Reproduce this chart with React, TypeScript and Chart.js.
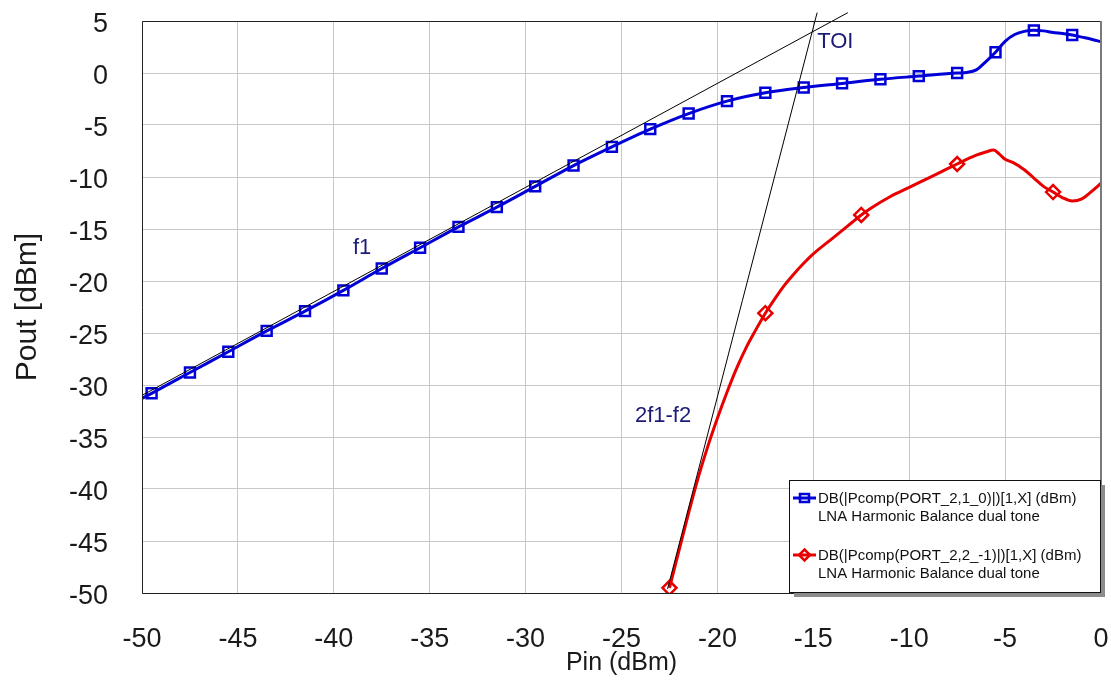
import React, { useEffect, useRef } from "react";
import { Chart, registerables } from "chart.js";

Chart.register(...registerables);

// ---- data ----
const pinF1 = [-50, -49.5, -47.5, -45.5, -43.5, -41.5, -39.5, -37.5, -35.5, -33.5, -31.5, -29.5, -27.5, -25.5, -23.5, -21.5, -19.5, -17.5, -15.5, -13.5, -11.5, -9.5, -7.5, -7, -6.5, -6, -5.5, -5, -4.5, -4, -3.5, -3, -2.5, -2, -1.5, -1, -0.5, 0];
const poutF1 = [-31.3, -30.8, -28.8, -26.8, -24.8, -22.9, -20.9, -18.8, -16.8, -14.8, -12.9, -10.9, -8.9, -7.1, -5.4, -3.9, -2.7, -1.9, -1.4, -1.0, -0.6, -0.3, 0.0, 0.05, 0.3, 1.1, 2.0, 3.05, 3.7, 4.0, 4.1, 4.05, 3.9, 3.8, 3.65, 3.45, 3.25, 3.0];
const markersF1 = [-49.5, -47.5, -45.5, -43.5, -41.5, -39.5, -37.5, -35.5, -33.5, -31.5, -29.5, -27.5, -25.5, -23.5, -21.5, -19.5, -17.5, -15.5, -13.5, -11.5, -9.5, -7.5, -5.5, -3.5, -1.5];

const pinIM3 = [-22.5, -22, -21.5, -21, -20.5, -20, -19.5, -19, -18.5, -18, -17.5, -17, -16.5, -16, -15.5, -15, -14, -13, -12.5, -12, -11, -10, -9, -8, -7.5, -7, -6.5, -6, -5.6, -5.3, -5, -4.6, -4, -3.5, -3, -2.5, -2, -1.5, -1, -0.5, 0];
const poutIM3 = [-49.5, -45.9, -42.3, -38.9, -35.9, -33.2, -30.7, -28.4, -26.4, -24.7, -23.1, -21.7, -20.4, -19.3, -18.3, -17.4, -15.9, -14.4, -13.65, -13.0, -11.9, -11.0, -10.1, -9.2, -8.75, -8.3, -7.9, -7.6, -7.4, -7.8, -8.3, -8.6, -9.3, -10.1, -10.9, -11.45, -12.0, -12.3, -12.1, -11.4, -10.6];
const markersIM3 = [-22.5, -17.5, -12.5, -7.5, -2.5];

// extrapolation lines (slope-1 fundamental and IM3 tangent) meeting at TOI
const toiLineF1X = [-50, -13.2];
const toiLineF1Y = [-31.0, 5.8];
const toiLineIM3X = [-22.6, -14.8];
const toiLineIM3Y = [-49.6, 5.8];

const xTicks = [-50, -45, -40, -35, -30, -25, -20, -15, -10, -5, 0];
const yTicks = [-50, -45, -40, -35, -30, -25, -20, -15, -10, -5, 0, 5];

const seriesNames = ["DB(|Pcomp(PORT_2,1_0)|)[1,X] (dBm)", "DB(|Pcomp(PORT_2,2_-1)|)[1,X] (dBm)"];
const seriesSub = ["LNA Harmonic Balance dual tone", "LNA Harmonic Balance dual tone"];

const noteLabels = ["TOI", "f1", "2f1-f2"];
const noteX = [-14.8, -39.0, -24.3];
const noteY = [2.4, -17.4, -33.55];

const FONT = "'Liberation Sans', Arial, sans-serif";
const BLUE = "rgb(0,0,215)";
const RED = "rgb(232,0,0)";
const NAVY = "#1c1c78";

const toPts = (xs: number[], ys: number[]) => xs.map((x, i) => ({ x, y: ys[i] }));

const zeroPad = (s: any) => {
  s.paddingTop = 0;
  s.paddingBottom = 0;
  s.paddingLeft = 0;
  s.paddingRight = 0;
};

export default function App() {
  const ref = useRef<HTMLCanvasElement | null>(null);

  useEffect(() => {
    const canvas = ref.current;
    if (!canvas) return;

    const decor = {
      id: "decor",
      afterDatasetsDraw(chart: any) {
        const { ctx, chartArea: a, scales } = chart;
        ctx.save();
        // frame
        ctx.strokeStyle = "#222";
        ctx.lineWidth = 1;
        ctx.beginPath();
        ctx.moveTo(a.right, a.top + 0.5);
        ctx.lineTo(a.left + 0.5, a.top + 0.5);
        ctx.lineTo(a.left + 0.5, a.bottom + 0.5);
        ctx.lineTo(a.right, a.bottom + 0.5);
        ctx.stroke();
        ctx.strokeStyle = "#7a7a7a";
        ctx.lineWidth = 2;
        ctx.beginPath();
        ctx.moveTo(a.right, a.top);
        ctx.lineTo(a.right, a.bottom + 1);
        ctx.stroke();
        // annotations
        ctx.fillStyle = NAVY;
        ctx.font = `22px ${FONT}`;
        ctx.textAlign = "left";
        ctx.textBaseline = "alphabetic";
        noteLabels.forEach((t, i) => {
          ctx.fillText(t, scales.x.getPixelForValue(noteX[i]), scales.y.getPixelForValue(noteY[i]));
        });
        ctx.restore();
      },
      afterDraw(chart: any) {
        const { ctx } = chart;
        ctx.save();
        const bx = 789, by = 480, bw = 311, bh = 112;
        ctx.fillStyle = "#8c8c8c";
        ctx.fillRect(bx + 5, by + 5, bw, bh);
        ctx.fillStyle = "#fff";
        ctx.fillRect(bx, by, bw, bh);
        ctx.strokeStyle = "#111";
        ctx.lineWidth = 1;
        ctx.strokeRect(bx + 0.5, by + 0.5, bw, bh);
        const rows = [498, 555];
        const cols = [BLUE, RED];
        rows.forEach((yy, i) => {
          ctx.strokeStyle = cols[i];
          ctx.lineWidth = 3;
          ctx.beginPath();
          ctx.moveTo(793, yy);
          ctx.lineTo(816, yy);
          ctx.stroke();
          ctx.lineWidth = 2.5;
          ctx.beginPath();
          if (i === 0) {
            ctx.rect(800, yy - 4, 9, 8);
          } else {
            ctx.moveTo(804.5, yy - 5.5);
            ctx.lineTo(810, yy);
            ctx.lineTo(804.5, yy + 5.5);
            ctx.lineTo(799, yy);
            ctx.closePath();
          }
          ctx.stroke();
          ctx.fillStyle = "#111";
          ctx.font = `15px ${FONT}`;
          ctx.textAlign = "left";
          ctx.textBaseline = "alphabetic";
          ctx.fillText(seriesNames[i], 818, yy + 5);
          ctx.fillText(seriesSub[i], 818, yy + 23);
        });
        ctx.restore();
      },
    };

    const isMarker = (list: number[]) => (c: any) => {
      const raw = c.raw as any;
      return raw && list.includes(raw.x) ? 1 : 0;
    };
    const mF1 = isMarker(markersF1);
    const mIM3 = isMarker(markersIM3);

    const chart = new Chart(canvas, {
      type: "line",
      data: {
        datasets: [
          {
            label: "toi1",
            data: toPts(toiLineF1X, toiLineF1Y),
            borderColor: "#000",
            borderWidth: 1,
            pointRadius: 0,
            clip: false as any,
            tension: 0,
          },
          {
            label: "toi3",
            data: toPts(toiLineIM3X, toiLineIM3Y),
            borderColor: "#000",
            borderWidth: 1,
            pointRadius: 0,
            clip: false as any,
            tension: 0,
          },
          {
            label: seriesNames[0],
            data: toPts(pinF1, poutF1),
            borderColor: BLUE,
            borderWidth: 3,
            cubicInterpolationMode: "monotone",
            pointStyle: "rect",
            pointRadius: (c: any) => (mF1(c) ? 7 : 0),
            pointBorderWidth: 2.5,
            pointBorderColor: BLUE,
            pointBackgroundColor: "rgba(0,0,0,0)",
          },
          {
            label: seriesNames[1],
            data: toPts(pinIM3, poutIM3),
            borderColor: RED,
            borderWidth: 3,
            cubicInterpolationMode: "monotone",
            pointStyle: "rectRot",
            pointRadius: (c: any) => (mIM3(c) ? 7 : 0),
            pointBorderWidth: 2.5,
            pointBorderColor: RED,
            pointBackgroundColor: "rgba(0,0,0,0)",
          },
        ],
      },
      options: {
        responsive: false,
        maintainAspectRatio: false,
        animation: false,
        events: [],
        layout: { padding: { left: 0, top: 21, right: 10, bottom: 0 } },
        plugins: { legend: { display: false }, tooltip: { enabled: false } },
        scales: {
          x: {
            type: "linear",
            min: -50,
            max: 0,
            afterBuildTicks: (s: any) => {
              s.ticks = xTicks.map((v) => ({ value: v }));
            },
            afterFit: (s: any) => {
              s.height = 100;
              zeroPad(s);
            },
            grid: { color: "#c8c8c8", lineWidth: 1, drawTicks: false },
            border: { display: false },
            ticks: { padding: 30, color: "#1a1a1a", font: { family: FONT, size: 27 }, maxRotation: 0 },
            title: {
              display: true,
              text: "Pin (dBm)",
              color: "#1a1a1a",
              font: { family: FONT, size: 25 },
              padding: { top: 0, bottom: 15 },
            },
          },
          y: {
            type: "linear",
            min: -50,
            max: 5,
            afterBuildTicks: (s: any) => {
              s.ticks = yTicks.map((v) => ({ value: v }));
            },
            afterFit: (s: any) => {
              s.width = 142;
              zeroPad(s);
            },
            grid: { color: "#c8c8c8", lineWidth: 1, drawTicks: false },
            border: { display: false },
            ticks: { padding: 34, labelOffset: 4, color: "#1a1a1a", font: { family: FONT, size: 27 } },
            title: {
              display: true,
              text: "Pout [dBm]",
              color: "#1a1a1a",
              font: { family: FONT, size: 30 },
              padding: { top: 10, bottom: 0 },
            },
          },
        },
      },
      plugins: [decor],
    } as any);

    return () => chart.destroy();
  }, []);

  return (
    <div style={{ position: "absolute", left: 0, top: 0, width: 1111, height: 693, background: "#fff" }}>
      <canvas ref={ref} width={1111} height={693} style={{ display: "block", width: 1111, height: 693 }} />
    </div>
  );
}
